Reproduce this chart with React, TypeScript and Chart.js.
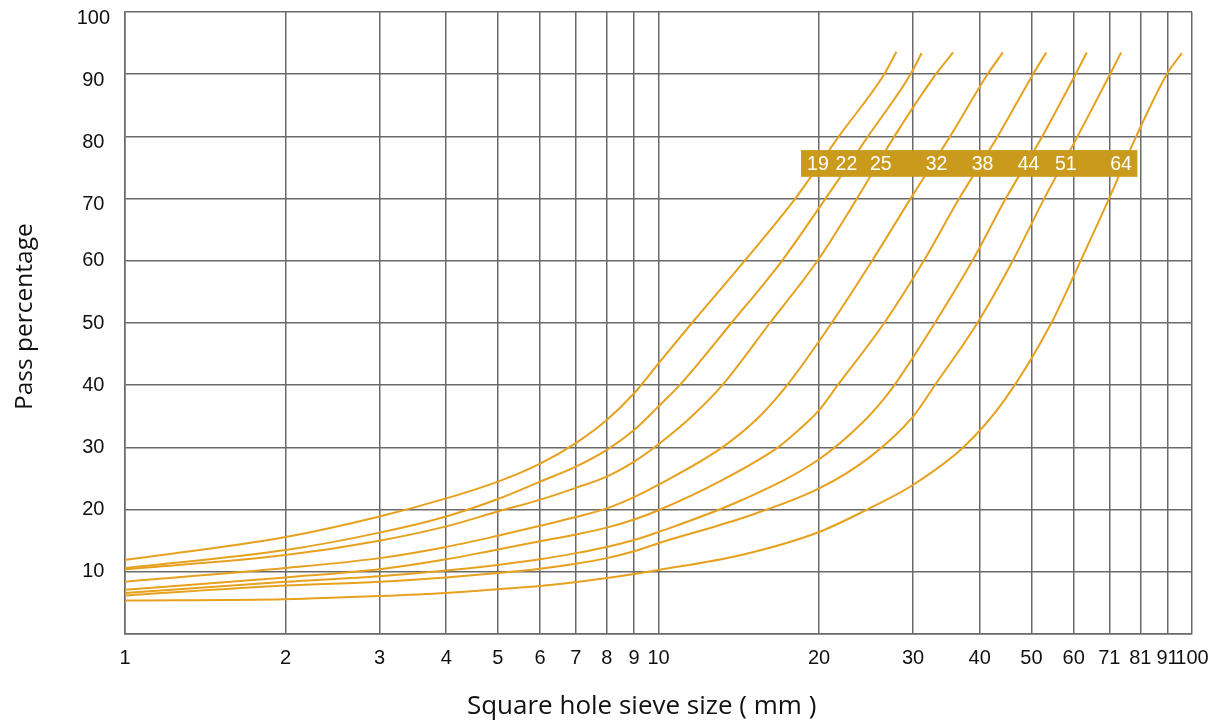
import React, { useEffect, useRef } from 'react';
import { Chart, registerables } from 'chart.js';

Chart.register(...registerables);

// ---- Axis ticks ----
const xTickValues = [1, 2, 3, 4, 5, 6, 7, 8, 9, 10, 20, 30, 40, 50, 60, 70, 80, 90, 100];
const xTickLabels = ['1', '2', '3', '4', '5', '6', '7', '8', '9', '10', '20', '30', '40', '50', '60', '71', '81', '91', '100'];
const yTickValues = [0, 10, 20, 30, 40, 50, 60, 70, 80, 90, 100];

// ---- Grading curves (sieve size mm -> pass %) ----
const curve19X = [1, 2, 3, 4, 5, 6, 7, 8, 9, 10, 11.55, 14.5, 18.04, 21.78, 26.49, 27.92];
const curve19Y = [11.9, 15.6, 18.9, 21.8, 24.5, 27.4, 30.7, 34.4, 38.7, 43.5, 50, 60, 70, 80, 90, 93.6];

const curve22X = [1, 2, 3, 4, 5, 6, 7, 8, 9, 10, 10.96, 13.7, 17.04, 20.56, 24.7, 29.68, 31.14];
const curve22Y = [10.6, 13.5, 16.3, 18.9, 21.7, 24.5, 26.9, 29.6, 32.8, 36.6, 40, 50, 60, 70, 80, 90, 93.4];

const curve25X = [1, 2, 3, 4, 5, 6, 7, 8, 9, 10, 11.55, 13.17, 16.17, 19.86, 23.55, 27.68, 33.11, 35.66];
const curve25Y = [10.4, 12.7, 15.0, 17.3, 19.7, 21.6, 23.5, 25.3, 27.7, 30.5, 35, 40, 50, 60, 70, 80, 90, 93.5];

const curve32X = [1, 2, 3, 4, 5, 6, 7, 8, 9, 10, 13.17, 15.48, 17.42, 21.11, 25.14, 29.68, 35.2, 41.38, 44.2];
const curve32Y = [8.4, 10.6, 12.2, 14.0, 15.8, 17.4, 18.8, 20.2, 22.0, 24.0, 30, 35, 40, 50, 60, 70, 80, 90, 93.5];

const curve38X = [1, 2, 3, 4, 5, 6, 7, 8, 9, 10, 13.0, 16.75, 18.04, 20.0, 21.67, 26.49, 31.42, 36.6, 43.22, 50.36, 53.3];
const curve38Y = [7.1, 9.1, 10.4, 12.0, 13.6, 14.9, 16.0, 17.1, 18.4, 19.9, 24.5, 30, 32.3, 36, 40, 50, 60, 70, 80, 90, 93.5];

const curve44X = [1, 2, 3, 4, 5, 6, 7, 8, 9, 10, 14.3, 20.0, 24.13, 26.34, 27.68, 32.96, 38.75, 44.76, 52.39, 60.5, 63.49];
const curve44Y = [6.6, 8.4, 9.3, 10.2, 11.1, 12.0, 13.0, 14.0, 15.1, 16.4, 21.5, 28.1, 34.0, 37.6, 40, 50, 60, 70, 80, 90, 93.5];

const curve51X = [1, 2, 3, 4, 5, 6, 7, 8, 9, 10, 14.3, 20.0, 24.85, 30.03, 32.96, 39.6, 46.14, 52.84, 61.04, 70.2, 73.65];
const curve51Y = [6.2, 7.8, 8.4, 9.1, 9.8, 10.5, 11.3, 12.2, 13.3, 14.6, 18.6, 23.4, 28.4, 35.0, 40, 50, 60, 70, 80, 90, 93.5];

const curve64X = [1, 2, 3, 4, 5, 6, 8, 10, 14.3, 20.0, 24.85, 30.03, 37.37, 44.5, 54.5, 61.83, 69.9, 78.6, 89.7, 95.7];
const curve64Y = [5.4, 5.6, 6.1, 6.6, 7.2, 7.7, 9.0, 10.3, 12.7, 16.4, 20.2, 24.0, 30.1, 37.6, 50, 60, 70, 80, 90, 93.4];

// ---- Size label band ----
const sieveLabels = ['19', '22', '25', '32', '38', '44', '51', '64'];
const sieveLabelX = [19.9, 22.5, 26.1, 33.2, 40.5, 49.4, 58.0, 73.6];
const labelBandX = [18.5, 79];
const labelBandY = [73.5, 77.8];

const curveXs = [curve19X, curve22X, curve25X, curve32X, curve38X, curve44X, curve51X, curve64X];
const curveYs = [curve19Y, curve22Y, curve25Y, curve32Y, curve38Y, curve44Y, curve51Y, curve64Y];

const LINE_COLOR = '#E6A11E';
const BAND_COLOR = '#C99A1C';
const GRID_COLOR = '#6a6a6a';
const TEXT_COLOR = '#111';
const TICK_FONT = '"Liberation Sans", Arial, sans-serif';
const TITLE_FONT = '"Open Sans", sans-serif';
const NB = '\u00A0';

const labelBandPlugin = {
  id: 'labelBand',
  afterDatasetsDraw(chart: any) {
    const { ctx, scales } = chart;
    const xs = scales.x;
    const ys = scales.y;
    const x0 = xs.getPixelForValue(labelBandX[0]);
    const x1 = xs.getPixelForValue(labelBandX[1]);
    const y0 = ys.getPixelForValue(labelBandY[1]);
    const y1 = ys.getPixelForValue(labelBandY[0]);
    ctx.save();
    ctx.fillStyle = BAND_COLOR;
    ctx.fillRect(x0, y0, x1 - x0, y1 - y0);
    ctx.fillStyle = '#ffffff';
    ctx.font = `19.5px ${TICK_FONT}`;
    ctx.textAlign = 'center';
    ctx.textBaseline = 'middle';
    const ym = (y0 + y1) / 2 + 1;
    sieveLabels.forEach((t, i) => {
      ctx.fillText(t, xs.getPixelForValue(sieveLabelX[i]), ym);
    });
    ctx.restore();
  },
};

export default function App() {
  const canvasRef = useRef<HTMLCanvasElement | null>(null);

  useEffect(() => {
    if (!canvasRef.current) return;
    const datasets = curveXs.map((xsArr, i) => ({
      label: sieveLabels[i],
      data: xsArr.map((x, j) => ({ x, y: curveYs[i][j] })),
      borderColor: LINE_COLOR,
      borderWidth: 2,
      pointRadius: 0,
      fill: false,
      cubicInterpolationMode: 'monotone' as const,
    }));

    const chart = new Chart(canvasRef.current, {
      type: 'line',
      data: { datasets },
      plugins: [labelBandPlugin],
      options: {
        animation: false,
        responsive: true,
        maintainAspectRatio: false,
        layout: { padding: { top: 12, right: 29, bottom: 0, left: 0 } },
        plugins: {
          legend: { display: false },
          tooltip: { enabled: false },
        },
        scales: {
          x: {
            type: 'logarithmic',
            min: 1,
            max: 100,
            afterBuildTicks: (axis: any) => {
              axis.ticks = xTickValues.map((v) => ({ value: v }));
            },
            afterFit: (axis: any) => {
              axis.height = 94;
              axis.paddingLeft = 0;
              axis.paddingRight = 0;
            },
            ticks: {
              autoSkip: false,
              maxRotation: 0,
              minRotation: 0,
              padding: 12,
              color: TEXT_COLOR,
              font: { family: TICK_FONT, size: 20 },
              callback: (_v: any, index: number) => xTickLabels[index],
            },
            grid: { color: GRID_COLOR, lineWidth: 1.5, drawTicks: false },
            border: { display: true, color: GRID_COLOR, width: 1.5 },
            title: {
              display: true,
              text: 'Square hole sieve size ( mm )' + NB.repeat(5),
              color: TEXT_COLOR,
              font: { family: TITLE_FONT, size: 26 },
              padding: { top: 0, bottom: 6 },
            },
          },
          y: {
            type: 'linear',
            min: 0,
            max: 100,
            afterBuildTicks: (axis: any) => {
              axis.ticks = yTickValues.map((v) => ({ value: v }));
            },
            afterFit: (axis: any) => {
              axis.width = 125;
              axis.paddingTop = 0;
              axis.paddingBottom = 0;
            },
            ticks: {
              padding: 15,
              crossAlign: 'center',
              color: TEXT_COLOR,
              font: (c: any) =>
                c.tick && c.tick.value >= 70
                  ? { family: TICK_FONT, size: 20, lineHeight: '12px' }
                  : { family: TICK_FONT, size: 20 },
              callback: (v: any) => (v === 0 ? '' : v >= 70 ? ['', String(v)] : String(v)),
            },
            grid: { color: GRID_COLOR, lineWidth: 1.5, drawTicks: false },
            border: { display: true, color: GRID_COLOR, width: 1.5 },
            title: {
              display: true,
              text: NB.repeat(2) + 'Pass percentage',
              color: TEXT_COLOR,
              font: { family: TITLE_FONT, size: 24.5 },
              padding: { top: 10, bottom: 0 },
            },
          },
        },
      },
    });
    return () => chart.destroy();
  }, []);

  return (
    <div style={{ position: 'fixed', left: 0, top: 0, width: 1221, height: 728, background: '#fff' }}>
      <canvas ref={canvasRef} />
    </div>
  );
}
